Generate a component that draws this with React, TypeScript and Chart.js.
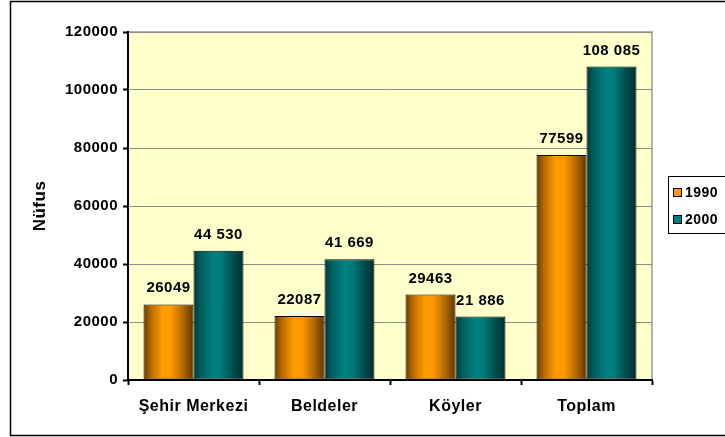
import React, { useEffect, useRef } from "react";
import { Chart, registerables } from "chart.js";

Chart.register(...registerables);

const categories = ["Şehir Merkezi", "Beldeler", "Köyler", "Toplam"];
const seriesLabels = ["1990", "2000"];
const values1990 = [26049, 22087, 29463, 77599];
const values2000 = [44530, 41669, 21886, 108085];
const yMin = 0;
const yMax = 120000;
const yStep = 20000;
const yTitle = "Nüfus";

const FONT = "'Liberation Sans', Arial, sans-serif";
const CAT_PCT = 0.763;
const LETTER_SPACING = "0.5px";

const orangeStops: [number, string][] = [
  [0, "#6a3c00"],
  [0.15, "#b86a00"],
  [0.38, "#ff9a00"],
  [0.55, "#ff9900"],
  [0.8, "#b06500"],
  [1, "#5e3600"],
];
const tealStops: [number, string][] = [
  [0, "#003838"],
  [0.15, "#005f5f"],
  [0.4, "#008080"],
  [0.55, "#007b7b"],
  [0.8, "#004c4c"],
  [1, "#002e2e"],
];
const legendColors = ["#ff9900", "#008080"];

function makeGradient(stops: [number, string][]) {
  return (ctx: any) => {
    const chart = ctx.chart;
    const area = chart.chartArea;
    const xs = chart.scales?.x;
    if (!area || !xs || ctx.type !== "data") return stops[3][1];
    const center = xs.getPixelForValue(ctx.dataIndex);
    const catW = (xs.right - xs.left) / categories.length;
    const barW = (catW * CAT_PCT) / 2;
    const left = ctx.datasetIndex === 0 ? center - barW : center;
    const g = chart.ctx.createLinearGradient(left, 0, left + barW, 0);
    stops.forEach(([o, c]) => g.addColorStop(o, c));
    return g;
  };
}

function formatLabel(v: number, datasetIndex: number) {
  const s = String(v);
  if (datasetIndex === 0) return s;
  return s.replace(/\B(?=(\d{3})+(?!\d))/g, " ");
}

const backgroundPlugin = {
  id: "bgPlugin",
  beforeDraw(chart: any) {
    const { ctx, chartArea: a, width, height } = chart;
    ctx.save();
    ctx.fillStyle = "#ffffff";
    ctx.fillRect(0, 0, width, height);
    ctx.strokeStyle = "#000000";
    ctx.lineWidth = 1.5;
    ctx.strokeRect(10.5, 1.5, width + 20, height - 3);
    ctx.fillStyle = "#ffffcc";
    ctx.fillRect(a.left, a.top, a.right - a.left, a.bottom - a.top);
    ctx.strokeStyle = "#b0b0b0";
    ctx.lineWidth = 2;
    ctx.strokeRect(a.left, a.top, a.right - a.left, a.bottom - a.top);
    ctx.restore();
    (ctx as any).letterSpacing = LETTER_SPACING;
  },
};

const dataLabelPlugin = {
  id: "dataLabels",
  afterDatasetsDraw(chart: any) {
    const { ctx } = chart;
    ctx.save();
    (ctx as any).letterSpacing = LETTER_SPACING;
    ctx.fillStyle = "#000";
    ctx.font = `bold 15px ${FONT}`;
    ctx.textAlign = "center";
    ctx.textBaseline = "alphabetic";
    chart.data.datasets.forEach((ds: any, di: number) => {
      const meta = chart.getDatasetMeta(di);
      meta.data.forEach((el: any, i: number) => {
        ctx.fillText(formatLabel(ds.data[i], di), el.x, el.y - 12);
      });
    });
    ctx.restore();
  },
};

const legendPlugin = {
  id: "customLegend",
  afterDraw(chart: any) {
    const { ctx } = chart;
    ctx.save();
    (ctx as any).letterSpacing = LETTER_SPACING;
    ctx.fillStyle = "#ffffff";
    ctx.fillRect(668, 176, 80, 57);
    ctx.strokeStyle = "#000";
    ctx.lineWidth = 1;
    ctx.strokeRect(668.5, 176.5, 80, 57);
    const rows = [193, 220];
    chart.data.datasets.forEach((ds: any, i: number) => {
      const y = rows[i];
      ctx.fillStyle = legendColors[i];
      ctx.fillRect(673.5, y - 4.5, 8, 8);
      ctx.strokeStyle = "#000";
      ctx.strokeRect(673.5, y - 4.5, 8, 8);
      ctx.fillStyle = "#000";
      ctx.font = `bold 14px ${FONT}`;
      ctx.textAlign = "left";
      ctx.textBaseline = "middle";
      ctx.fillText(ds.label, 685, y + 0.5);
    });
    ctx.restore();
  },
};

export default function App() {
  const ref = useRef<HTMLCanvasElement | null>(null);

  useEffect(() => {
    if (!ref.current) return;
    const chart = new Chart(ref.current, {
      type: "bar",
      data: {
        labels: categories,
        datasets: [
          {
            label: seriesLabels[0],
            data: values1990,
            backgroundColor: makeGradient(orangeStops),
            borderColor: "#000",
            borderWidth: 1,
            borderSkipped: false,
            categoryPercentage: CAT_PCT,
            barPercentage: 1,
          },
          {
            label: seriesLabels[1],
            data: values2000,
            backgroundColor: makeGradient(tealStops),
            borderColor: "#000",
            borderWidth: 1,
            borderSkipped: false,
            categoryPercentage: CAT_PCT,
            barPercentage: 1,
          },
        ],
      },
      options: {
        responsive: false,
        animation: false,
        events: [],
        devicePixelRatio: 1,
        layout: { padding: { left: 10, right: 73, top: 32, bottom: 2 } },
        plugins: {
          legend: { display: false },
          tooltip: { enabled: false },
        },
        scales: {
          x: {
            grid: {
              drawOnChartArea: false,
              drawTicks: true,
              tickLength: 5,
              tickColor: "#000",
              tickWidth: 2,
              offset: true,
            },
            border: { display: true, color: "#000", width: 2 },
            ticks: {
              color: "#000",
              font: { family: FONT, size: 16, weight: "bold" },
              padding: 12,
              maxRotation: 0,
              autoSkip: false,
            },
            afterFit: (s: any) => {
              s.height = 55;
            },
          },
          y: {
            min: yMin,
            max: yMax,
            ticks: {
              stepSize: yStep,
              color: "#000",
              font: { family: FONT, size: 15, weight: "bold" },
              padding: 5,
              callback: (v: any) => String(v),
            },
            grid: {
              color: (c: any) => (c.tick && c.tick.value === 0 ? "rgba(0,0,0,0)" : "#8c8c8c"),
              lineWidth: 1,
              drawTicks: true,
              tickLength: 5,
              tickColor: "#000",
              tickWidth: 2,
            },
            border: { display: true, color: "#000", width: 2 },
            title: {
              display: true,
              text: yTitle,
              color: "#000",
              font: { family: FONT, size: 17, weight: "bold" },
              padding: { top: 20, bottom: 0 },
            },
            afterFit: (s: any) => {
              s.width = 118;
            },
          },
        },
      },
      plugins: [backgroundPlugin, dataLabelPlugin, legendPlugin],
    });
    return () => chart.destroy();
  }, []);

  return (
    <div style={{ position: "fixed", left: 0, top: 0, width: 725, height: 437 }}>
      <canvas ref={ref} width={725} height={437} style={{ display: "block" }} />
    </div>
  );
}
